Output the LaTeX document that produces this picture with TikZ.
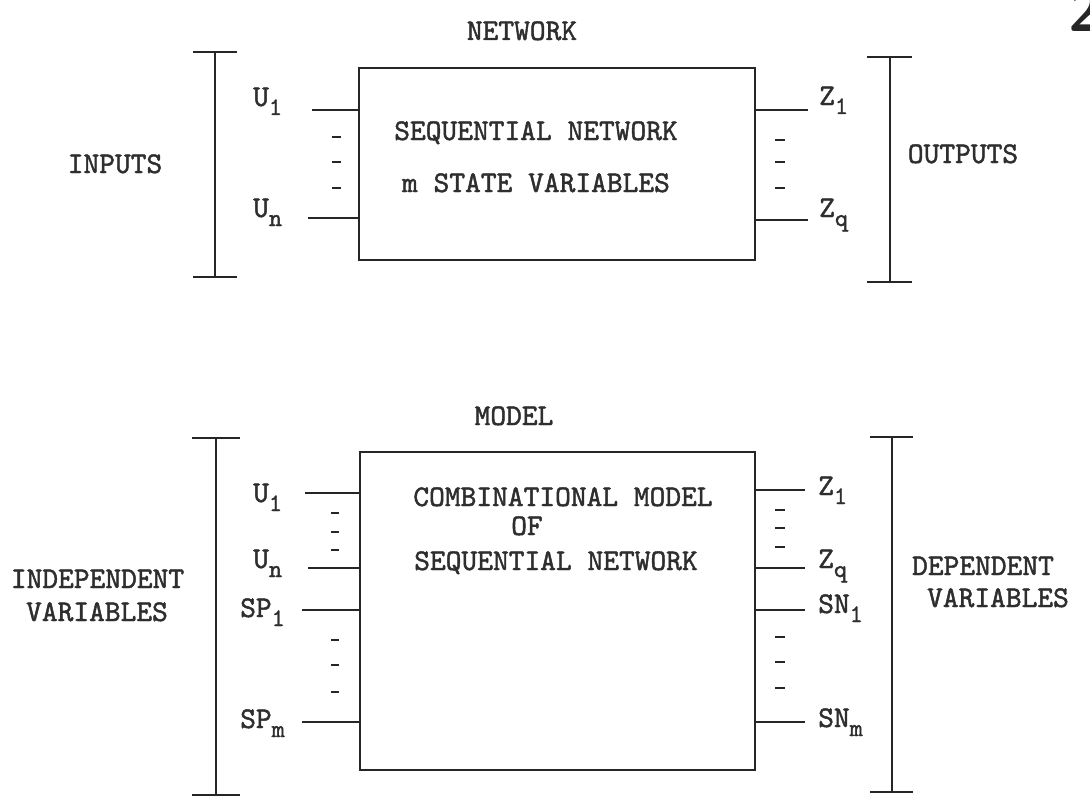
\documentclass[tikz,border=0pt]{standalone}
\usepackage{fontspec}
\newfontfamily\typew{lmmono10-regular.otf}[FakeBold=1.5]
\definecolor{ink}{gray}{0.15}
\definecolor{txt}{gray}{0.18}
\newcommand\subx[1]{\raisebox{-9pt}{\fontsize{25}{25}\selectfont #1}}
\begin{document}
\begin{tikzpicture}[x=1pt,y=-1pt,
  every node/.style={font=\typew\fontsize{30}{34}\selectfont, text=txt, inner sep=0pt},
  lbl/.style={anchor=base west},
  ttl/.style={anchor=base},
  blk/.style={draw=ink, line width=2pt},
  wire/.style={draw=ink, line width=2pt},
  dashmark/.style={draw=ink, line width=2pt},
  brk/.style={draw=ink, line width=2pt}]
\useasboundingbox (0,0) rectangle (1090,808);
\clip (0,0) rectangle (1090,808);
\fill[white] (0,0) rectangle (1090,808);

% page number (cut off at the edge, as in the scan)
\node[anchor=base west, font=\sffamily\bfseries\fontsize{62}{62}\selectfont, text=ink] (pg) at (1068,32) {2};

%%%%%%%%%%%%%%%% TOP: NETWORK %%%%%%%%%%%%%%%%
\node[ttl] (nettitle) at (522,40) {NETWORK};
\node[blk, minimum width=396pt, minimum height=192pt] (net) at (557,164) {};
\node[ttl] (net1) at (536,140) {SEQUENTIAL NETWORK};
\node[ttl] (net2) at (536,192) {m STATE VARIABLES};

% inputs
\node[lbl] (tu1) at (253,106) {U\subx{1}};
\node[lbl] (tun) at (253,217) {U\subx{n}};
\coordinate (tu1e) at (312,110);
\coordinate (tune) at (308,218);
\draw[wire] (tu1e) -- (tu1e -| net.west);
\draw[wire] (tune) -- (tune -| net.west);
\foreach \y in {137,162,188} \draw[dashmark] (332,\y) -- (341,\y);

% outputs
\node[lbl] (tz1) at (819,105) {Z\subx{1}};
\node[lbl] (tzq) at (819,217) {Z\subx{q}};
\coordinate (tz1e) at (808,110);
\coordinate (tzqe) at (808,220);
\draw[wire] (tz1e -| net.east) -- (tz1e);
\draw[wire] (tzqe -| net.east) -- (tzqe);
\foreach \y in {140,162,188} \draw[dashmark] (775,\y) -- (785,\y);

% brackets
\draw[brk] (193,52) -- (237,52) (215,52) -- (215,277) (193,277) -- (237,277);
\draw[brk] (867,57) -- (912,57) (890,57) -- (890,282) (867,282) -- (912,282);
\node[ttl] (inputs) at (115,173) {INPUTS};
\node[ttl] (outputs) at (963,163) {OUTPUTS};

%%%%%%%%%%%%%%%% BOTTOM: MODEL %%%%%%%%%%%%%%%%
\node[ttl] (modtitle) at (514,425) {MODEL};
\node[blk, minimum width=395pt, minimum height=318pt] (mod) at (557.5,611) {};
\node[ttl] (mod1) at (563,506) {COMBINATIONAL MODEL};
\node[ttl] (mod2) at (527,535) {OF};
\node[ttl] (mod3) at (556,570) {SEQUENTIAL NETWORK};

% independent variables
\node[lbl] (bu1) at (253,502) {U\subx{1}};
\node[lbl] (bun) at (253,568) {U\subx{n}};
\node[lbl] (bsp1) at (240,617) {SP\subx{1}};
\node[lbl] (bspm) at (240,728) {SP\subx{m}};
\coordinate (bu1e) at (305,493);
\coordinate (bune) at (308,568);
\coordinate (bsp1e) at (302,610);
\coordinate (bspme) at (302,722);
\draw[wire] (bu1e) -- (bu1e -| mod.west);
\draw[wire] (bune) -- (bune -| mod.west);
\draw[wire] (bsp1e) -- (bsp1e -| mod.west);
\draw[wire] (bspme) -- (bspme -| mod.west);
\foreach \y in {513,532,550,640,665,692} \draw[dashmark] (331,\y) -- (339,\y);

% dependent variables
\node[lbl] (bz1) at (818,495) {Z\subx{1}};
\node[lbl] (bzq) at (818,568) {Z\subx{q}};
\node[lbl] (bsn1) at (818,613) {SN\subx{1}};
\node[lbl] (bsnm) at (818,727) {SN\subx{m}};
\coordinate (bz1e) at (805,490);
\coordinate (bzqe) at (805,568);
\coordinate (bsn1e) at (805,610);
\coordinate (bsnme) at (805,722);
\draw[wire] (bz1e -| mod.east) -- (bz1e);
\draw[wire] (bzqe -| mod.east) -- (bzqe);
\draw[wire] (bsn1e -| mod.east) -- (bsn1e);
\draw[wire] (bsnme -| mod.east) -- (bsnme);
\foreach \y in {510,528,547,637,662,688} \draw[dashmark] (775,\y) -- (785,\y);

% brackets
\draw[brk] (192,438) -- (240,438) (216,438) -- (216,795) (192,795) -- (240,795);
\draw[brk] (870,437) -- (913,437) (892,437) -- (892,792) (870,792) -- (913,792);
\node[ttl] (indep1) at (97.5,588) {INDEPENDENT};
\node[ttl] (indep2) at (97,621) {VARIABLES};
\node[ttl] (dep1) at (983,575) {DEPENDENT};
\node[ttl] (dep2) at (998,607) {VARIABLES};
\end{tikzpicture}
\end{document}
